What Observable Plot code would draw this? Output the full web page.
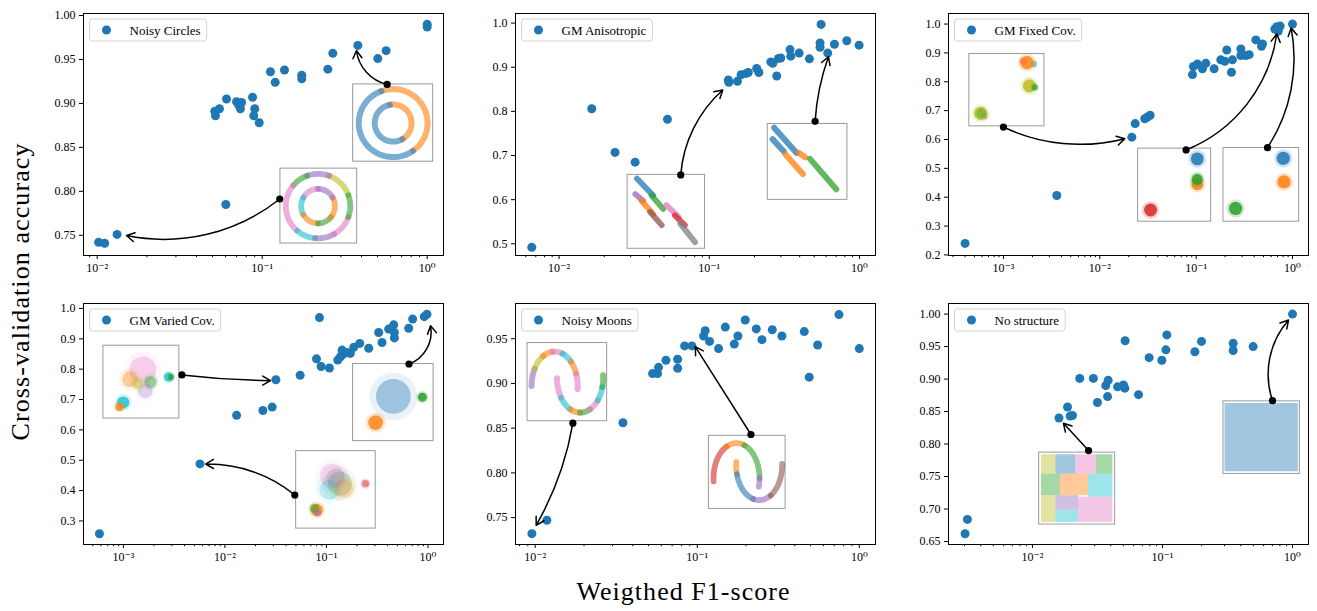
<!DOCTYPE html>
<html><head><meta charset="utf-8">
<script src="https://cdn.jsdelivr.net/npm/d3@7"></script>
<script src="https://cdn.jsdelivr.net/npm/@observablehq/plot@0.6"></script>
<style>
body{margin:0;background:#fff;}
#root{position:relative;width:1317px;height:611px;overflow:hidden;background:#fff;}
</style></head>
<body><div id="root"></div>
<script>
// ---------- data ----------
const panelNames = ["Noisy Circles","GM Anisotropic","GM Fixed Cov.","GM Varied Cov.","Noisy Moons","No structure"];

const circlesX = [0.0102,0.0111,0.0132,0.0602,0.0516,0.0521,0.0551,0.0608,0.0699,0.0721,0.0738,0.0750,0.0874,0.0902,0.0889,0.0959,0.1122,0.1199,0.1365,0.1737,0.1737,0.250,0.268,0.380,0.502,0.564,1.0,1.0];
const circlesY = [0.742,0.741,0.751,0.785,0.891,0.886,0.894,0.905,0.902,0.898,0.894,0.901,0.907,0.894,0.886,0.878,0.936,0.924,0.938,0.932,0.928,0.939,0.957,0.966,0.951,0.960,0.990,0.987];

const anisoX = [0.00658,0.0165,0.0236,0.0321,0.0527,0.134,0.135,0.154,0.163,0.176,0.182,0.207,0.214,0.257,0.265,0.2815,0.289,0.2994,0.345,0.349,0.397,0.4645,0.547,0.547,0.5555,0.615,0.682,0.824,0.995];
const anisoY = [0.492,0.806,0.707,0.685,0.782,0.871,0.866,0.868,0.883,0.886,0.888,0.897,0.888,0.912,0.909,0.880,0.920,0.921,0.940,0.925,0.932,0.919,0.955,0.945,0.997,0.932,0.952,0.960,0.950];

const fixedX = [0.0004,0.00358,0.0215,0.0233,0.0293,0.0313,0.0333,0.0916,0.0937,0.1032,0.1163,0.126,0.1537,0.180,0.1984,0.208,0.2326,0.238,0.291,0.291,0.328,0.355,0.4163,0.477,0.488,0.6556,0.687,0.7446,0.71,1.0];
const fixedY = [0.240,0.406,0.608,0.655,0.672,0.678,0.684,0.825,0.853,0.862,0.845,0.864,0.845,0.876,0.871,0.910,0.833,0.876,0.914,0.891,0.891,0.894,0.945,0.923,0.931,0.983,0.991,0.993,0.975,1.0];

const variedX = [0.000581,0.00568,0.01303,0.02366,0.02922,0.03177,0.0551,0.0798,0.0854,0.0886,0.107,0.1292,0.1375,0.1426,0.1459,0.1596,0.172,0.1857,0.2128,0.2608,0.3271,0.3528,0.41,0.4595,0.4667,0.4667,0.6456,0.7065,0.92,0.9777];
const variedY = [0.258,0.488,0.648,0.664,0.675,0.765,0.780,0.834,0.970,0.809,0.804,0.830,0.841,0.863,0.850,0.855,0.852,0.872,0.885,0.869,0.921,0.888,0.932,0.946,0.921,0.903,0.935,0.965,0.973,0.981];

const moonsX = [0.00954,0.0118,0.0348,0.053,0.0569,0.0577,0.0641,0.0757,0.0757,0.0836,0.0927,0.1095,0.112,0.1191,0.1354,0.149,0.1692,0.1782,0.1978,0.2313,0.2508,0.2904,0.333,0.4575,0.491,0.5533,0.749,1.0];
const moonsY = [0.732,0.747,0.856,0.911,0.911,0.918,0.926,0.927,0.917,0.942,0.942,0.953,0.959,0.947,0.939,0.963,0.944,0.953,0.971,0.961,0.949,0.960,0.953,0.958,0.907,0.943,0.977,0.939];

const noStructX = [0.00303,0.00316,0.016,0.0186,0.0195,0.0203,0.0231,0.0294,0.0316,0.0366,0.0382,0.0378,0.0451,0.0501,0.0513,0.0516,0.0654,0.0789,0.0988,0.1062,0.108,0.1774,0.1995,0.3496,0.3496,0.498,1.0];
const noStructY = [0.662,0.684,0.840,0.857,0.843,0.844,0.901,0.901,0.864,0.890,0.898,0.873,0.888,0.891,0.886,0.959,0.876,0.933,0.929,0.945,0.968,0.942,0.958,0.955,0.944,0.950,1.0];

const xTickValues = [1e-3, 1e-2, 1e-1, 1];
const xTickLabels = ["10\u207B\u00B3", "10\u207B\u00B2", "10\u207B\u00B9", "10\u2070"];
const yTicksCircles = [0.75,0.80,0.85,0.90,0.95,1.00];
const yTicksAniso = [0.5,0.6,0.7,0.8,0.9,1.0];
const yTicksFixed = [0.2,0.3,0.4,0.5,0.6,0.7,0.8,0.9,1.0];
const yTicksVaried = [0.3,0.4,0.5,0.6,0.7,0.8,0.9,1.0];
const yTicksMoons = [0.75,0.80,0.85,0.90,0.95];
const yTicksNoStruct = [0.65,0.70,0.75,0.80,0.85,0.90,0.95,1.00];

// annotation arrows (data coordinates): tail -> head
const arrowsCircles = [{x1:0.572,y1:0.9216,x2:0.3728,y2:0.9602,bend:35},{x1:0.1278,y1:0.7913,x2:0.01506,y2:0.7497,bend:25}];
const arrowsAniso = [{x1:0.0646,y1:0.6561,x2:0.123,y2:0.8484,bend:22},{x1:0.507,y1:0.7775,x2:0.6217,y2:0.9238,bend:8}];
const arrowsFixed = [{x1:0.001,y1:0.6432,x2:0.01817,y2:0.6029,bend:-20},{x1:0.0787,y1:0.5637,x2:0.687,y2:0.9655,bend:-30},{x1:0.55,y1:0.5718,x2:0.969,y2:0.986,bend:-22}];
const arrowsVaried = [{x1:0.00377,y1:0.781,x2:0.0281,y2:0.7623,bend:-3},{x1:0.0488,y1:0.3855,x2:0.00646,y2:0.4873,bend:-20},{x1:0.65,y1:0.817,x2:1.06,y2:0.943,bend:-40}];
const arrowsMoons = [{x1:0.01708,y1:0.8556,x2:0.01014,y2:0.7414,bend:10},{x1:0.2145,y1:0.8429,x2:0.0972,y2:0.9411,bend:0}];
const arrowsNoStruct = [{x1:0.027,y1:0.7899,x2:0.0173,y2:0.8319,bend:0},{x1:0.7017,y1:0.8668,x2:0.932,y2:0.9908,bend:30}];

// tab10 colours used in insets
const C = {blue:"#1f77b4",orange:"#ff7f0e",green:"#2ca02c",red:"#d62728",purple:"#9467bd",brown:"#8c564b",pink:"#e377c2",gray:"#7f7f7f",olive:"#bcbd22",cyan:"#17becf"};

// inset thumbnails: box in data coords, content in box-relative units (u right, v down)
const insetsCircles = [
  {box:{x1:0.356,x2:1.087,yTop:0.9216,yBot:0.8337}, rings:[
    {u:0.5,v:0.5,rx:0.43,ry:0.44,a0:110,a1:-55,c:C.orange},{u:0.5,v:0.5,rx:0.43,ry:0.44,a0:-55,a1:-250,c:C.blue},
    {u:0.5,v:0.5,rx:0.23,ry:0.24,a0:100,a1:-60,c:C.orange},{u:0.5,v:0.5,rx:0.23,ry:0.24,a0:-60,a1:-260,c:C.blue}]},
  {box:{x1:0.129,x2:0.3765,yTop:0.8258,yBot:0.7406}, rings:[
    {u:0.49,v:0.5,rx:0.42,ry:0.43,a0:20,a1:70,c:C.olive},{u:0.49,v:0.5,rx:0.42,ry:0.43,a0:70,a1:110,c:C.purple},
    {u:0.49,v:0.5,rx:0.42,ry:0.43,a0:110,a1:140,c:C.green},{u:0.49,v:0.5,rx:0.42,ry:0.43,a0:140,a1:230,c:C.pink},
    {u:0.49,v:0.5,rx:0.42,ry:0.43,a0:230,a1:265,c:C.cyan},{u:0.49,v:0.5,rx:0.42,ry:0.43,a0:265,a1:300,c:C.purple},
    {u:0.49,v:0.5,rx:0.42,ry:0.43,a0:300,a1:340,c:C.pink},{u:0.49,v:0.5,rx:0.42,ry:0.43,a0:340,a1:380,c:C.green},
    {u:0.49,v:0.5,rx:0.22,ry:0.23,a0:90,a1:150,c:C.pink},{u:0.49,v:0.5,rx:0.22,ry:0.23,a0:150,a1:210,c:C.cyan},
    {u:0.49,v:0.5,rx:0.22,ry:0.23,a0:210,a1:270,c:C.orange},{u:0.49,v:0.5,rx:0.22,ry:0.23,a0:270,a1:320,c:C.green},
    {u:0.49,v:0.5,rx:0.22,ry:0.23,a0:320,a1:390,c:C.orange},{u:0.49,v:0.5,rx:0.22,ry:0.23,a0:30,a1:90,c:C.purple}]}
];
const insetsAniso = [
  {box:{x1:0.0286,x2:0.0938,yTop:0.6561,yBot:0.4887}, streaks:[
    {u1:0.1,v1:0.26,u2:0.2,v2:0.35,c:C.purple},{u1:0.12,v1:0.05,u2:0.33,v2:0.28,c:C.blue},
    {u1:0.31,v1:0.28,u2:0.46,v2:0.46,c:C.green},{u1:0.18,v1:0.35,u2:0.33,v2:0.53,c:C.orange},
    {u1:0.29,v1:0.5,u2:0.44,v2:0.68,c:C.brown},{u1:0.5,v1:0.41,u2:0.66,v2:0.57,c:C.pink},
    {u1:0.61,v1:0.55,u2:0.74,v2:0.68,c:C.red},{u1:0.68,v1:0.66,u2:0.87,v2:0.91,c:C.gray}]},
  {box:{x1:0.2453,x2:0.832,yTop:0.7715,yBot:0.5995}, streaks:[
    {u1:0.08,v1:0.05,u2:0.36,v2:0.38,c:C.blue},{u1:0.06,v1:0.2,u2:0.2,v2:0.36,c:C.blue},
    {u1:0.22,v1:0.4,u2:0.44,v2:0.66,c:C.orange},{u1:0.39,v1:0.38,u2:0.47,v2:0.44,c:C.orange},
    {u1:0.53,v1:0.46,u2:0.86,v2:0.86,c:C.green}]}
];
const insetsFixed = [
  {box:{x1:0.000443,x2:0.002664,yTop:0.8964,yBot:0.6455}, blobs:[
    {u:0.72,v:0.1,s:0.06,c:C.pink,o:0.7},{u:0.86,v:0.14,s:0.05,c:C.cyan,o:0.6},{u:0.77,v:0.12,s:0.11,c:C.orange,o:0.8},
    {u:0.8,v:0.44,s:0.11,c:C.olive,o:0.85},{u:0.87,v:0.46,s:0.05,c:C.green,o:0.7},
    {u:0.2,v:0.86,s:0.05,c:C.purple,o:0.5},{u:0.15,v:0.82,s:0.11,c:C.olive,o:0.8},{u:0.16,v:0.82,s:0.08,c:C.green,o:0.35}]},
  {box:{x1:0.025,x2:0.1431,yTop:0.5683,yBot:0.3151}, blobs:[
    {u:0.81,v:0.14,s:0.11,c:C.blue,o:0.85},{u:0.81,v:0.49,s:0.1,c:C.orange,o:0.85},{u:0.81,v:0.42,s:0.095,c:C.green,o:0.85},
    {u:0.17,v:0.84,s:0.11,c:C.red,o:0.85}]},
  {box:{x1:0.1921,x2:1.173,yTop:0.5706,yBot:0.3151}, blobs:[
    {u:0.79,v:0.14,s:0.11,c:C.blue,o:0.85},{u:0.8,v:0.46,s:0.11,c:C.orange,o:0.85},{u:0.16,v:0.82,s:0.11,c:C.green,o:0.85}]}
];
const insetsVaried = [
  {box:{x1:0.000636,x2:0.003556,yTop:0.8773,yBot:0.6374}, blobs:[
    {u:0.52,v:0.33,s:0.22,c:C.pink,o:0.3},{u:0.35,v:0.46,s:0.13,c:C.orange,o:0.35},{u:0.62,v:0.5,s:0.1,c:C.green,o:0.4},
    {u:0.55,v:0.62,s:0.12,c:C.purple,o:0.25},{u:0.45,v:0.52,s:0.09,c:C.olive,o:0.4},
    {u:0.86,v:0.43,s:0.075,c:C.cyan,o:0.8},{u:0.89,v:0.43,s:0.045,c:C.green,o:0.8},
    {u:0.26,v:0.78,s:0.1,c:C.cyan,o:0.8},{u:0.21,v:0.84,s:0.065,c:C.orange,o:0.8}]},
  {box:{x1:0.0503,x2:0.3056,yTop:0.53,yBot:0.2748}, blobs:[
    {u:0.45,v:0.32,s:0.19,c:C.pink,o:0.25},{u:0.55,v:0.42,s:0.19,c:C.green,o:0.25},{u:0.42,v:0.5,s:0.16,c:C.cyan,o:0.25},
    {u:0.6,v:0.48,s:0.15,c:C.orange,o:0.25},{u:0.5,v:0.35,s:0.15,c:C.purple,o:0.2},
    {u:0.87,v:0.42,s:0.06,c:C.pink,o:0.8},{u:0.88,v:0.42,s:0.035,c:C.orange,o:0.6},
    {u:0.26,v:0.76,s:0.095,c:C.orange,o:0.75},{u:0.23,v:0.74,s:0.07,c:C.green,o:0.5},{u:0.27,v:0.8,s:0.05,c:C.purple,o:0.5}]},
  {box:{x1:0.183,x2:1.137,yTop:0.817,yBot:0.563}, blobs:[
    {u:0.5,v:0.42,s:0.27,c:C.blue,o:0.38},{u:0.86,v:0.43,s:0.07,c:C.green,o:0.85},{u:0.28,v:0.76,s:0.115,c:C.orange,o:0.8}]}
];
const insetsMoons = [
  {box:{x1:0.00897,x2:0.0278,yTop:0.9452,yBot:0.8578}, rings:[
    {u:0.34,v:0.55,rx:0.29,ry:0.44,a0:180,a1:150,c:C.purple},{u:0.34,v:0.55,rx:0.29,ry:0.44,a0:150,a1:120,c:C.olive},
    {u:0.34,v:0.55,rx:0.29,ry:0.44,a0:120,a1:95,c:C.orange},{u:0.34,v:0.55,rx:0.29,ry:0.44,a0:95,a1:70,c:C.pink},
    {u:0.34,v:0.55,rx:0.29,ry:0.44,a0:70,a1:45,c:C.cyan},{u:0.34,v:0.55,rx:0.29,ry:0.44,a0:45,a1:20,c:C.orange},
    {u:0.34,v:0.55,rx:0.29,ry:0.44,a0:20,a1:-5,c:C.pink},
    {u:0.66,v:0.45,rx:0.29,ry:0.44,a0:180,a1:215,c:C.pink},{u:0.66,v:0.45,rx:0.29,ry:0.44,a0:215,a1:245,c:C.cyan},
    {u:0.66,v:0.45,rx:0.29,ry:0.44,a0:245,a1:270,c:C.orange},{u:0.66,v:0.45,rx:0.29,ry:0.44,a0:270,a1:295,c:C.green},
    {u:0.66,v:0.45,rx:0.29,ry:0.44,a0:295,a1:320,c:C.pink},{u:0.66,v:0.45,rx:0.29,ry:0.44,a0:320,a1:345,c:C.cyan},
    {u:0.66,v:0.45,rx:0.29,ry:0.44,a0:345,a1:365,c:C.green}]},
  {box:{x1:0.118,x2:0.351,yTop:0.8414,yBot:0.7597}, rings:[
    {u:0.36,v:0.58,rx:0.3,ry:0.48,a0:185,a1:115,c:C.red},{u:0.36,v:0.58,rx:0.3,ry:0.48,a0:115,a1:70,c:C.orange},
    {u:0.36,v:0.58,rx:0.3,ry:0.48,a0:70,a1:0,c:C.green},{u:0.36,v:0.58,rx:0.3,ry:0.48,a0:0,a1:-15,c:C.purple},
    {u:0.655,v:0.4,rx:0.3,ry:0.48,a0:175,a1:195,c:C.orange},{u:0.655,v:0.4,rx:0.3,ry:0.48,a0:195,a1:255,c:C.blue},
    {u:0.655,v:0.4,rx:0.3,ry:0.48,a0:255,a1:300,c:C.purple},{u:0.655,v:0.4,rx:0.3,ry:0.48,a0:300,a1:362,c:C.brown}]}
];
const insetsNoStruct = [
  {box:{x1:0.01125,x2:0.04325,yTop:0.7868,yBot:0.6761}, cells:[
    {u1:0.03,u2:0.22,v1:0.03,v2:0.3,c:C.olive},{u1:0.22,u2:0.48,v1:0.03,v2:0.3,c:C.blue},
    {u1:0.48,u2:0.75,v1:0.03,v2:0.3,c:C.pink},{u1:0.75,u2:0.97,v1:0.03,v2:0.3,c:C.green},
    {u1:0.03,u2:0.28,v1:0.3,v2:0.6,c:C.green},{u1:0.28,u2:0.65,v1:0.3,v2:0.6,c:C.orange},
    {u1:0.65,u2:0.97,v1:0.3,v2:0.62,c:C.cyan},
    {u1:0.03,u2:0.22,v1:0.6,v2:0.97,c:C.olive},{u1:0.22,u2:0.52,v1:0.6,v2:0.8,c:C.purple},
    {u1:0.22,u2:0.52,v1:0.8,v2:0.97,c:C.cyan},{u1:0.52,u2:0.97,v1:0.62,v2:0.97,c:C.pink}]},
  {box:{x1:0.2945,x2:1.139,yTop:0.8657,yBot:0.754}, cells:[
    {u1:0.02,u2:0.98,v1:0.03,v2:0.97,c:C.blue}]}
];

// ---------- layout ----------
const panels = [
  {name:panelNames[0], xs:circlesX, ys:circlesY, xLog:[-2.083,0.099], yDomain:[0.727,1.0023], yTicks:yTicksCircles, yDigits:2, frame:{x:83,y:13,w:360,h:242}, insets:insetsCircles, arrows:arrowsCircles},
  {name:panelNames[1], xs:anisoX, ys:anisoY, xLog:[-2.29,0.107], yDomain:[0.4735,1.0217], yTicks:yTicksAniso, yDigits:1, frame:{x:515,y:13,w:360,h:242}, insets:insetsAniso, arrows:arrowsAniso},
  {name:panelNames[2], xs:fixedX, ys:fixedY, xLog:[-3.57,0.166], yDomain:[0.198,1.0366], yTicks:yTicksFixed, yDigits:1, frame:{x:948,y:13,w:360,h:242}, insets:insetsFixed, arrows:arrowsFixed},
  {name:panelNames[3], xs:variedX, ys:variedY, xLog:[-3.393,0.153], yDomain:[0.2224,1.0164], yTicks:yTicksVaried, yDigits:1, frame:{x:83,y:303,w:360,h:241}, insets:insetsVaried, arrows:arrowsVaried},
  {name:panelNames[4], xs:moonsX, ys:moonsY, xLog:[-2.1216,0.1], yDomain:[0.7199,0.9894], yTicks:yTicksMoons, yDigits:2, frame:{x:515,y:303,w:360,h:241}, insets:insetsMoons, arrows:arrowsMoons},
  {name:panelNames[5], xs:noStructX, ys:noStructY, xLog:[-2.646,0.123], yDomain:[0.6454,1.0163], yTicks:yTicksNoStruct, yDigits:2, frame:{x:948,y:303,w:360,h:241}, insets:insetsNoStruct, arrows:arrowsNoStruct}
];

const root = document.getElementById("root");
const FONT = "'Liberation Serif', 'DejaVu Serif', serif";

function buildPanel(cfg) {
  const f = cfg.frame;
  const mL = 52, mR = 14, mT = 8, mB = 32;
  const [lx0, lx1] = cfg.xLog;
  const pxPerLog = f.w / (lx1 - lx0);
  const pts = cfg.xs.map((x, i) => ({x, y: cfg.ys[i]}));
  const majors = xTickValues.filter(v => Math.log10(v) >= lx0 && Math.log10(v) <= lx1);
  const minors = [];
  for (let e = Math.floor(lx0); e <= Math.ceil(lx1); e++)
    for (let k = 2; k <= 9; k++) { const v = k * 10 ** e, l = Math.log10(v); if (l >= lx0 && l <= lx1) minors.push(v); }

  const marks = [
    Plot.axisY({ticks: cfg.yTicks, tickSize: 4, tickPadding: 4, tickFormat: d => d.toFixed(cfg.yDigits), label: null, fontSize: 12}),
    Plot.axisX({ticks: minors, tickSize: 2.2, tickFormat: () => "", label: null}),
    Plot.axisX({ticks: majors, tickSize: 4, tickPadding: 4, tickFormat: d => xTickLabels[xTickValues.indexOf(d)], label: null, fontSize: 12}),
    Plot.dot(pts, {x: "x", y: "y", r: 4.5, fill: C.blue})
  ];

  for (const ins of cfg.insets) {
    const b = ins.box;
    const L1 = Math.log10(b.x1), L2 = Math.log10(b.x2);
    const X = u => 10 ** (L1 + u * (L2 - L1));
    const Y = v => b.yTop - v * (b.yTop - b.yBot);
    const bw = (L2 - L1) * pxPerLog;
    marks.push(Plot.rect([b], {x1: "x1", x2: "x2", y1: "yBot", y2: "yTop", fill: "white", stroke: "#9a9a9a", strokeWidth: 1}));
    for (const cl of (ins.cells || [])) {
      marks.push(Plot.rect([{a: X(cl.u1), b: X(cl.u2), c: Y(cl.v2), d: Y(cl.v1)}], {x1: "a", x2: "b", y1: "c", y2: "d", fill: cl.c, fillOpacity: 0.42}));
    }
    for (const s of (ins.streaks || [])) {
      marks.push(Plot.link([{a: X(s.u1), b: Y(s.v1), c: X(s.u2), d: Y(s.v2)}], {x1: "a", y1: "b", x2: "c", y2: "d", stroke: s.c, strokeWidth: 0.075 * bw, strokeLinecap: "round", strokeOpacity: 0.75}));
    }
    for (const bl of (ins.blobs || [])) {
      const p = [{x: X(bl.u), y: Y(bl.v)}];
      marks.push(Plot.dot(p, {x: "x", y: "y", r: bl.s * bw * 1.1, fill: bl.c, fillOpacity: bl.o * 0.25}));
      marks.push(Plot.dot(p, {x: "x", y: "y", r: bl.s * bw * 0.8, fill: bl.c, fillOpacity: bl.o}));
    }
    for (const rg of (ins.rings || [])) {
      const n = Math.max(2, Math.ceil(Math.abs(rg.a1 - rg.a0) / 3));
      const arc = d3.range(n + 1).map(i => {
        const a = (rg.a0 + (rg.a1 - rg.a0) * i / n) * Math.PI / 180;
        return {x: X(rg.u + rg.rx * Math.cos(a)), y: Y(rg.v - rg.ry * Math.sin(a))};
      });
      marks.push(Plot.line(arc, {x: "x", y: "y", stroke: rg.c, strokeWidth: 0.075 * bw, strokeOpacity: 0.6, strokeDasharray: "1.6 0.7"}));
    }
  }

  for (const a of cfg.arrows) {
    marks.push(Plot.arrow([a], {x1: "x1", y1: "y1", x2: "x2", y2: "y2", bend: a.bend, stroke: "black", strokeWidth: 1.5, headLength: 9}));
  }
  marks.push(Plot.dot(cfg.arrows, {x: "x1", y: "y1", r: 3.6, fill: "black"}));
  marks.push(Plot.frame({stroke: "black", strokeWidth: 1}));

  const svg = Plot.plot({
    width: f.w + mL + mR, height: f.h + mT + mB,
    marginLeft: mL, marginRight: mR, marginTop: mT, marginBottom: mB,
    x: {type: "log", domain: [10 ** lx0, 10 ** lx1]},
    y: {domain: cfg.yDomain},
    style: {fontFamily: FONT, fontSize: "12px", color: "black", background: "transparent", overflow: "visible"},
    marks
  });
  svg.style.position = "absolute";
  svg.style.left = (f.x - mL) + "px";
  svg.style.top = (f.y - mT) + "px";
  root.appendChild(svg);

  // legend box
  const g = d3.select(svg).append("g").attr("transform", `translate(${mL + 6.5},${mT + 6})`);
  const box = g.append("rect").attr("height", 22).attr("rx", 3).attr("fill", "white").attr("fill-opacity", 0.85).attr("stroke", "#d3d3d3").attr("stroke-width", 1);
  g.append("circle").attr("cx", 17).attr("cy", 11).attr("r", 4.5).attr("fill", C.blue);
  const t = g.append("text").attr("x", 40).attr("y", 15.5).attr("text-anchor", "start").attr("font-size", 13).attr("font-family", FONT).attr("fill", "black").text(cfg.name);
  const tw = t.node().getComputedTextLength();
  box.attr("width", 40 + tw + 6);
}

panels.forEach(buildPanel);

// shared axis titles
const ov = d3.select(root).append("svg").attr("width", 1317).attr("height", 611)
  .style("position", "absolute").style("left", "0px").style("top", "0px").style("pointer-events", "none");
ov.append("text").attr("transform", "translate(29,292) rotate(-90)").attr("text-anchor", "middle")
  .attr("font-family", FONT).attr("font-size", 26).attr("textLength", 297).attr("lengthAdjust", "spacing").text("Cross-validation accuracy");
ov.append("text").attr("x", 683).attr("y", 600).attr("text-anchor", "middle")
  .attr("font-family", FONT).attr("font-size", 26).attr("textLength", 213).attr("lengthAdjust", "spacing").text("Weigthed F1-score");
</script>
</body></html>
